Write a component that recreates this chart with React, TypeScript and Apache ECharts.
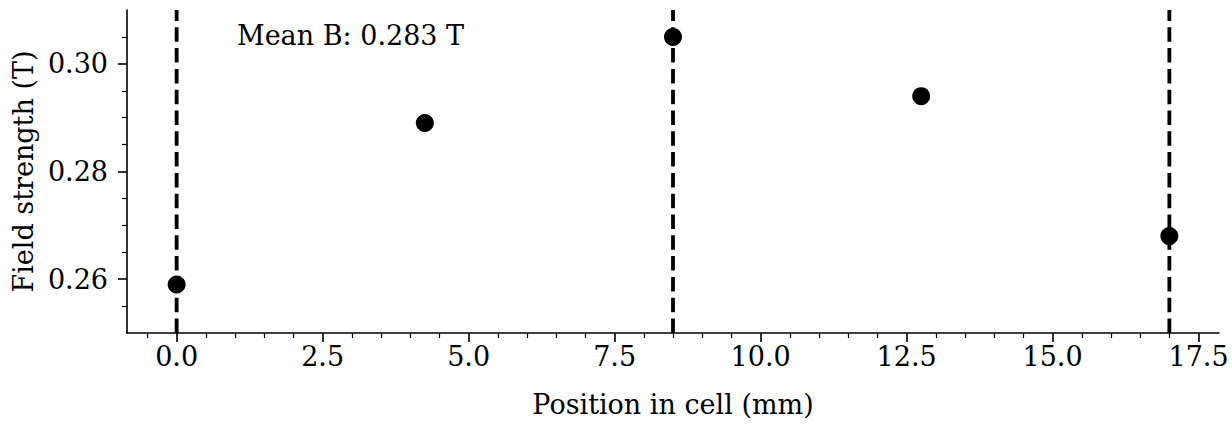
import React, { useEffect, useRef } from "react";
import * as echarts from "echarts";

const positions = [0, 4.25, 8.5, 12.75, 17];
const fieldStrength = [0.259, 0.289, 0.305, 0.294, 0.268];
const boundaryPositions = [0, 8.5, 17];
const xLimits = [-0.85, 17.85];
const yLimits = [0.25, 0.31];
const xMajorTicks = [0, 2.5, 5, 7.5, 10, 12.5, 15, 17.5];
const xMinorTicks = [
  -0.5, 0.5, 1, 1.5, 2, 3, 3.5, 4, 4.5, 5.5, 6, 6.5, 7, 8, 8.5, 9, 9.5, 10.5, 11,
  11.5, 12, 13, 13.5, 14, 14.5, 15.5, 16, 16.5, 17,
];
const yMajorTicks = [0.26, 0.28, 0.3];
const yMinorTicks = [0.255, 0.265, 0.27, 0.275, 0.285, 0.29, 0.295, 0.305];

const FONT = "DejaVu Serif";
const FS = 27;

export default function App() {
  const ref = useRef<HTMLDivElement>(null);
  useEffect(() => {
    if (!ref.current) return;
    const chart = echarts.init(ref.current, undefined, { renderer: "svg" });
    const mean = fieldStrength.reduce((a, b) => a + b, 0) / fieldStrength.length;
    const axisLine = { show: true, onZero: false, lineStyle: { color: "#000", width: 1.6 } };
    const hiddenLine = { show: false, onZero: false };
    const textStyle = { fontFamily: FONT, fontSize: FS, color: "#000" };
    chart.setOption({
      animation: false,
      backgroundColor: "#fff",
      grid: { left: 127, right: 13, top: 10, bottom: 93, containLabel: false },
      xAxis: [
        {
          type: "value",
          min: xLimits[0],
          max: xLimits[1],
          position: "bottom",
          axisLine,
          splitLine: { show: false },
          axisTick: {
            show: true,
            length: 9,
            lineStyle: { color: "#000", width: 1.6 },
            customValues: xMajorTicks,
          },
          axisLabel: {
            ...textStyle,
            margin: 10,
            customValues: xMajorTicks,
            formatter: (v: number) => v.toFixed(1),
          },
          name: "Position in cell (mm)",
          nameLocation: "middle",
          nameGap: 58,
          nameTextStyle: textStyle,
        },
        {
          type: "value",
          min: xLimits[0],
          max: xLimits[1],
          position: "bottom",
          axisLine: hiddenLine,
          splitLine: { show: false },
          axisTick: {
            show: true,
            length: 5,
            lineStyle: { color: "#000", width: 1.2 },
            customValues: xMinorTicks,
          },
          axisLabel: { show: false },
        },
      ],
      yAxis: [
        {
          type: "value",
          min: yLimits[0],
          max: yLimits[1],
          position: "left",
          axisLine,
          splitLine: { show: false },
          axisTick: {
            show: true,
            length: 9,
            lineStyle: { color: "#000", width: 1.6 },
            customValues: yMajorTicks,
          },
          axisLabel: {
            ...textStyle,
            margin: 19,
            customValues: yMajorTicks,
            formatter: (v: number) => v.toFixed(2),
          },
          name: "Field strength (T)",
          nameLocation: "middle",
          nameGap: 86,
          nameTextStyle: textStyle,
        },
        {
          type: "value",
          min: yLimits[0],
          max: yLimits[1],
          position: "left",
          axisLine: hiddenLine,
          splitLine: { show: false },
          axisTick: {
            show: true,
            length: 5,
            lineStyle: { color: "#000", width: 1.2 },
            customValues: yMinorTicks,
          },
          axisLabel: { show: false },
        },
      ],
      graphic: [
        {
          type: "text",
          left: 237,
          top: 22,
          style: {
            text: `Mean B: ${mean.toFixed(3)} T`,
            font: `${FS}px "${FONT}"`,
            fill: "#000",
          },
        },
      ],
      series: [
        ...boundaryPositions.map((p) => ({
          type: "line",
          xAxisIndex: 0,
          yAxisIndex: 0,
          symbol: "none",
          silent: true,
          data: [
            [p, yLimits[0]],
            [p, yLimits[1]],
          ],
          lineStyle: { color: "#000", width: 3.8, type: [14.5, 6.3] },
          z: 2,
        })),
        {
          type: "scatter",
          xAxisIndex: 0,
          yAxisIndex: 0,
          symbol: "circle",
          symbolSize: 18,
          itemStyle: { color: "#000", opacity: 1 },
          data: positions.map((x, i) => [x, fieldStrength[i]]),
          z: 5,
        },
      ],
    });
    return () => chart.dispose();
  }, []);
  return (
    <div
      ref={ref}
      style={{ position: "fixed", left: 0, top: 0, width: 1232, height: 426 }}
    />
  );
}
